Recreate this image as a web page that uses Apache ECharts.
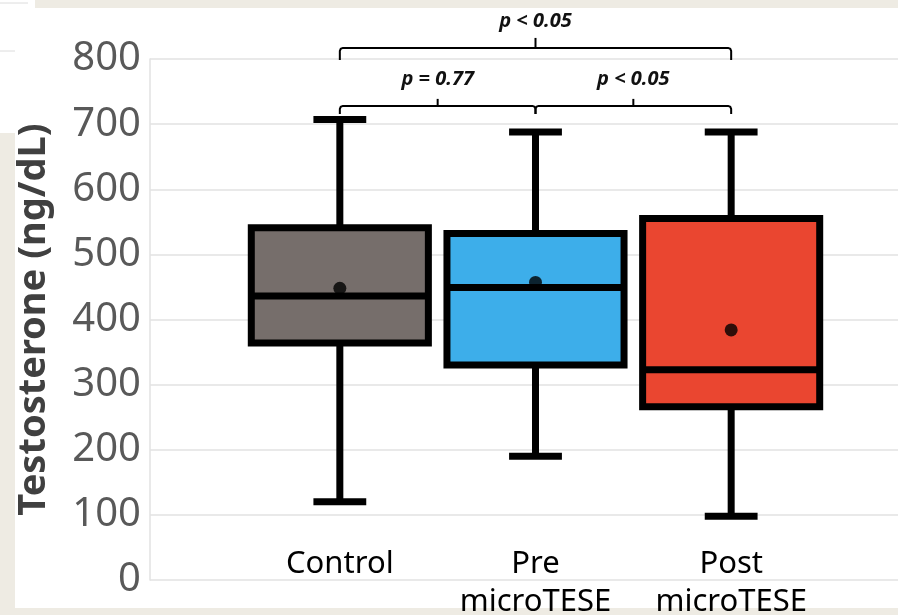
<!DOCTYPE html>
<html>
<head>
<meta charset="utf-8">
<script src="https://cdn.jsdelivr.net/npm/echarts@6/dist/echarts.min.js"></script>
<style>
html,body{margin:0;padding:0;background:#fff;}
#c{width:898px;height:615px;}
</style>
</head>
<body>
<div id="c"></div>
<script>
// ---- data ----
const categories = ['Control', 'Pre\nmicroTESE', 'Post\nmicroTESE'];
const whiskerLow = [120, 190, 98];
const q1Values = [364, 330, 266];
const medianValues = [436, 449, 323];
const q3Values = [541, 532, 555];
const whiskerHigh = [707, 688, 688];
const meanValues = [448, 457, 384];
const boxColors = ['#766E6B', '#3DAEEA', '#EA4630'];
const yTickValues = [0, 100, 200, 300, 400, 500, 600, 700, 800];
const bracketFrom = [0, 0, 1];
const bracketTo = [2, 1, 2];
const bracketLevel = [817, 728, 728];
const bracketLabels = ['p < 0.05', 'p = 0.77', 'p < 0.05'];

const chart = echarts.init(document.getElementById('c'), null, {renderer: 'canvas'});

const boxData = categories.map((c, i) => [i, whiskerLow[i], q1Values[i], medianValues[i], q3Values[i], whiskerHigh[i]]);
const meanData = categories.map((c, i) => [i, meanValues[i]]);
const bracketData = bracketFrom.map((f, i) => [f, bracketTo[i], bracketLevel[i], i]);

const frame = '#EEEBE3';

const option = {
  backgroundColor: '#ffffff',
  animation: false,
  graphic: [
    {type: 'rect', shape: {x: 35, y: 0, width: 863, height: 8}, style: {fill: frame}, silent: true},
    {type: 'rect', shape: {x: 0, y: 133, width: 15, height: 482}, style: {fill: frame}, silent: true},
    {type: 'rect', shape: {x: 0, y: 608, width: 898, height: 7}, style: {fill: frame}, silent: true},
    {type: 'line', shape: {x1: 0, y1: 3, x2: 28, y2: 3}, style: {stroke: '#dcdcdc', lineWidth: 1}, silent: true},
    {type: 'line', shape: {x1: 0, y1: 51, x2: 15, y2: 51}, style: {stroke: '#dcdcdc', lineWidth: 1}, silent: true}
  ],
  grid: [
    {left: 150, right: 0, top: 59, bottom: 35, outerBoundsMode: 'none', containLabel: false},
    {left: 242, right: 69, top: 59, bottom: 35, outerBoundsMode: 'none', containLabel: false}
  ],
  xAxis: [
    {gridIndex: 0, type: 'value', min: 0, max: 1, show: false},
    {
      gridIndex: 1, type: 'category', data: categories,
      axisLine: {show: false}, axisTick: {show: false},
      axisLabel: {
        margin: -35, fontSize: 31, lineHeight: 38, color: '#000',
        fontFamily: 'Noto Sans', interval: 0
      },
      splitLine: {show: false}
    }
  ],
  yAxis: [
    {
      gridIndex: 0, type: 'value', min: 0, max: 800, interval: 100,
      name: 'Testosterone (ng/dL)', nameLocation: 'middle', nameGap: 97,
      nameTextStyle: {fontSize: 38, fontWeight: 'bold', color: '#404040', fontFamily: 'Noto Sans'},
      axisLine: {show: true, lineStyle: {color: '#e2e2e2', width: 1.5}},
      axisTick: {show: false},
      axisLabel: {
        fontSize: 40, color: '#595959', fontFamily: 'Noto Sans', margin: 9,
        formatter: v => (yTickValues.indexOf(v) >= 0 ? String(v) : '')
      },
      splitLine: {show: true, lineStyle: {color: '#e2e2e2', width: 1.5}}
    },
    {gridIndex: 1, type: 'value', min: 0, max: 800, show: false}
  ],
  series: [
    {
      type: 'custom', xAxisIndex: 1, yAxisIndex: 1, data: boxData,
      encode: {x: 0, y: [1, 2, 3, 4, 5]}, z: 3, clip: false,
      renderItem: function (params, api) {
        const i = api.value(0);
        const pLo = api.coord([i, api.value(1)]);
        const pQ1 = api.coord([i, api.value(2)]);
        const pMed = api.coord([i, api.value(3)]);
        const pQ3 = api.coord([i, api.value(4)]);
        const pHi = api.coord([i, api.value(5)]);
        const band = api.size([1, 0])[0];
        const bw = band * 0.905;
        const cw = band * 0.27;
        const x = pLo[0];
        const lw = 7;
        const st = {stroke: '#000', lineWidth: lw, fill: null};
        return {
          type: 'group',
          children: [
            {type: 'line', shape: {x1: x, y1: pQ1[1], x2: x, y2: pLo[1]}, style: st},
            {type: 'line', shape: {x1: x, y1: pQ3[1], x2: x, y2: pHi[1]}, style: st},
            {type: 'line', shape: {x1: x - cw / 2, y1: pLo[1], x2: x + cw / 2, y2: pLo[1]}, style: st},
            {type: 'line', shape: {x1: x - cw / 2, y1: pHi[1], x2: x + cw / 2, y2: pHi[1]}, style: st},
            {type: 'rect', shape: {x: x - bw / 2, y: pQ3[1], width: bw, height: pQ1[1] - pQ3[1]},
              style: {fill: boxColors[i], stroke: '#000', lineWidth: lw}},
            {type: 'line', shape: {x1: x - bw / 2, y1: pMed[1], x2: x + bw / 2, y2: pMed[1]}, style: st}
          ]
        };
      }
    },
    {
      type: 'scatter', xAxisIndex: 1, yAxisIndex: 1, data: meanData,
      symbol: 'circle', symbolSize: 13, itemStyle: {color: '#000'}, z: 5
    },
    {
      type: 'custom', xAxisIndex: 1, yAxisIndex: 1, data: bracketData,
      encode: {x: [0, 1], y: 2}, z: 4, clip: false,
      renderItem: function (params, api) {
        const a = api.value(0), b = api.value(1), lv = api.value(2), k = api.value(3);
        const p1 = api.coord([a, lv]);
        const p2 = api.coord([b, lv]);
        const y = p1[1];
        const x1 = p1[0], x2 = p2[0], xm = (x1 + x2) / 2;
        const drop = (b - a) > 1 ? 12 : 8;
        const up = (b - a) > 1 ? 10 : 7;
        const r = 3;
        const st = {stroke: '#000', lineWidth: 2, fill: null};
        const children = [
          {type: 'polyline', shape: {points: [
            [x1, y + drop], [x1, y + r], [x1 + 0.9, y + 0.9], [x1 + r, y],
            [x2 - r, y], [x2 - 0.9, y + 0.9], [x2, y + r], [x2, y + drop]
          ]}, style: st},
          {type: 'line', shape: {x1: xm, y1: y, x2: xm, y2: y - up}, style: st},
          {type: 'text', style: {
            text: bracketLabels[k], x: xm, y: y - 27,
            textAlign: 'center', textVerticalAlign: 'middle',
            font: 'italic bold 20px "Noto Sans"', fill: '#111'
          }}
        ];
        return {type: 'group', children: children};
      }
    }
  ]
};
chart.setOption(option);
</script>
</body>
</html>
